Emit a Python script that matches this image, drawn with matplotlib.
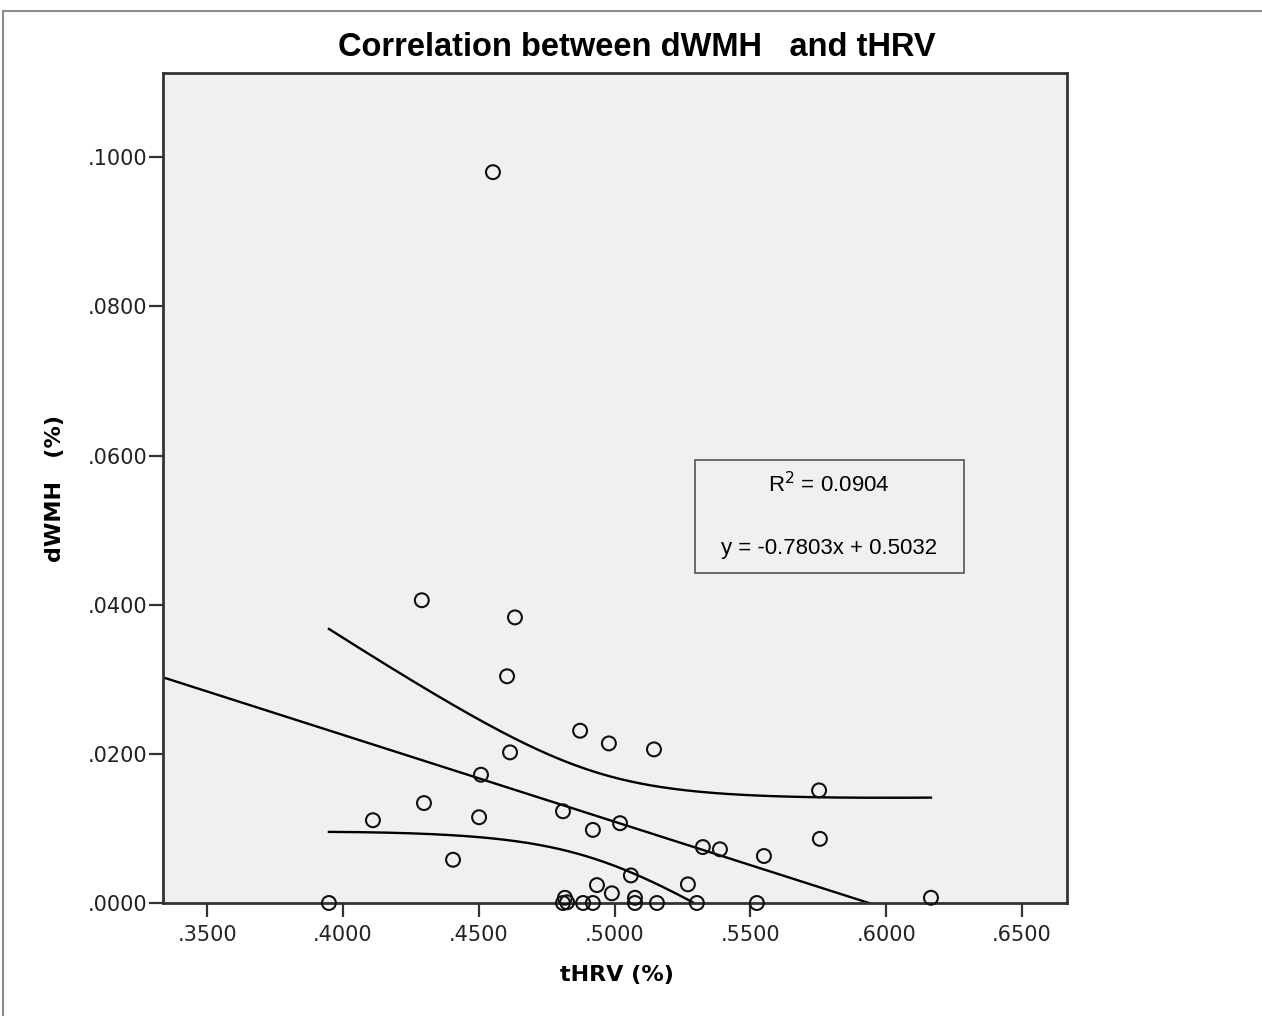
import numpy as np
import matplotlib
matplotlib.use("Agg")
import matplotlib.pyplot as plt
from matplotlib.patches import Rectangle
from matplotlib.ticker import FuncFormatter

# points: tHRV (x) and dWMH (y)
thrv = [0.4552, 0.4290, 0.4633, 0.4604, 0.4873, 0.4979, 0.5145, 0.4615,
        0.5753, 0.4508, 0.4298, 0.4110, 0.4501, 0.4810, 0.4920, 0.5020,
        0.5756, 0.5325, 0.5388, 0.5550, 0.4405, 0.5060, 0.5270, 0.4935,
        0.4990, 0.6165, 0.3948, 0.5303, 0.5524, 0.5156, 0.4817, 0.4825,
        0.4884, 0.4920, 0.5075, 0.5075, 0.4810]
dwmh = [0.0980, 0.0406, 0.0383, 0.0304, 0.0231, 0.0214, 0.0206, 0.0202,
        0.0151, 0.0172, 0.0134, 0.0111, 0.0115, 0.0123, 0.0098, 0.0107,
        0.0086, 0.0075, 0.0072, 0.0063, 0.0058, 0.0037, 0.0025, 0.0024,
        0.0013, 0.0007, 0.0000, 0.0000, 0.0000, 0.0000, 0.0007, 0.0001,
        0.0000, 0.0000, 0.0000, 0.0007, 0.0000]

# fit line and mean confidence band as drawn
slope = -0.1164
intercept = 0.0691
band_x0 = 0.492
band_a = 3.4e-5
band_b = 0.016

xticks = [0.35, 0.40, 0.45, 0.50, 0.55, 0.60, 0.65]
yticks = [0.00, 0.02, 0.04, 0.06, 0.08, 0.10]

fig = plt.figure(figsize=(12.62, 10.16), dpi=100)
fig.patches.append(Rectangle((3 / 1262, -0.01), 1.01, 1 - 11 / 1016 + 0.01,
                             transform=fig.transFigure, fill=False,
                             edgecolor="#8c8c8c", linewidth=1.5))

ax = fig.add_axes([163 / 1262, 113 / 1016, 904 / 1262, 830 / 1016])
ax.set_facecolor("#f0f0f0")
ax.set_xlim(0.3337, 0.6666)
ax.set_ylim(0, 0.1113)

xs = np.linspace(0.3337, 0.6666, 200)
ax.plot(xs, intercept + slope * xs, color="black", lw=1.7)
xb = np.linspace(min(thrv), max(thrv), 200)
hw = np.sqrt(band_a + band_b * (xb - band_x0) ** 2)
ax.plot(xb, intercept + slope * xb + hw, color="black", lw=1.7)
ax.plot(xb, intercept + slope * xb - hw, color="black", lw=1.7)

ax.scatter(thrv, dwmh, s=100, facecolors="none", edgecolors="#111111",
           linewidths=1.5, zorder=3, clip_on=False)

ax.set_xticks(xticks)
ax.set_yticks(yticks)
fmt = FuncFormatter(lambda v, p: ("%.4f" % v)[1:])
ax.xaxis.set_major_formatter(fmt)
ax.yaxis.set_major_formatter(fmt)
ax.tick_params(axis="both", direction="out", length=10, width=1.6,
               color="#333333", labelsize=15, labelcolor="#222222")
ax.tick_params(axis="x", pad=6)
ax.tick_params(axis="y", pad=1)
for sp in ax.spines.values():
    sp.set_color("#333333")
    sp.set_linewidth(2)

ax.add_patch(Rectangle((0.5885, 0.3976), 0.2975, 0.1361, transform=ax.transAxes,
                       fill=False, edgecolor="#555555", linewidth=1.2))
ax.text(0.7367, 0.5036, "R$^2$ = 0.0904", transform=ax.transAxes,
        ha="center", va="center", fontsize=16, family="Liberation Sans")
ax.text(0.7367, 0.4277, "y = -0.7803x + 0.5032", transform=ax.transAxes,
        ha="center", va="center", fontsize=16, family="Liberation Sans")

fig.text(637 / 1262, 1 - 47 / 1016, "Correlation between dWMH   and tHRV",
         ha="center", va="center", fontsize=23.5, fontweight="bold",
         family=["Liberation Sans", "DejaVu Sans"])
fig.text(617 / 1262, 1 - 975 / 1016, "tHRV (%)", ha="center", va="center",
         fontsize=16, fontweight="bold")
fig.text(55 / 1262, 1 - 488 / 1016, "dWMH   (%)", ha="center", va="center",
         rotation=90, fontsize=16, fontweight="bold")

fig.savefig("out.png", dpi=100)
